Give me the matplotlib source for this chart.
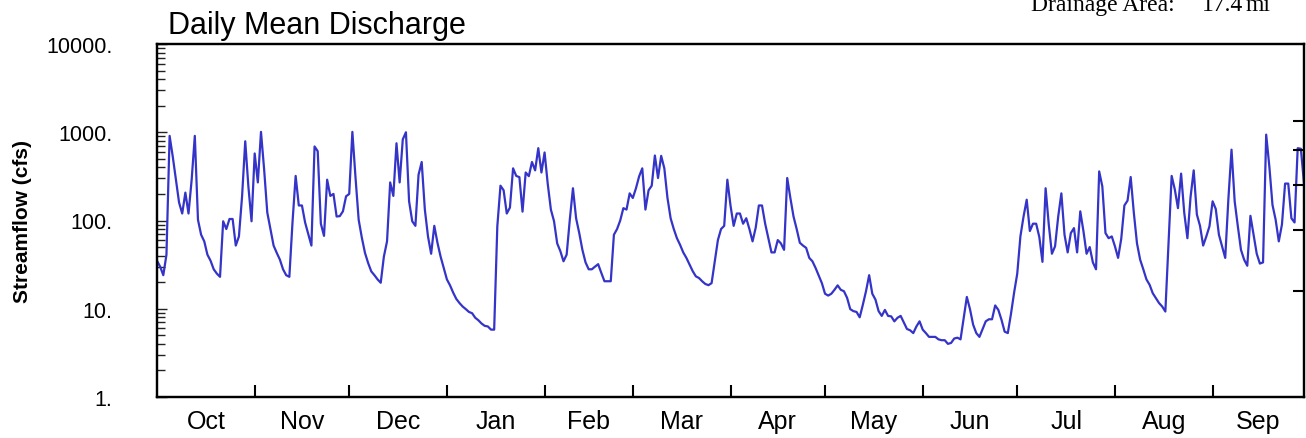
import numpy as np
import matplotlib
matplotlib.use('Agg')
import matplotlib.pyplot as plt
from matplotlib.ticker import FixedLocator, NullLocator, NullFormatter, LogLocator, FuncFormatter

# daily mean discharge (cfs), one list per month of the water year
months = ['Oct', 'Nov', 'Dec', 'Jan', 'Feb', 'Mar', 'Apr', 'May', 'Jun', 'Jul', 'Aug', 'Sep']
oct_q = [35, 30, 24, 41, 910, 530, 290, 160, 120, 207, 120, 290, 910, 102, 69, 58, 41, 35, 28, 25,
         23, 98, 80, 104, 104, 52, 66, 188, 790, 243, 98]
nov_q = [575, 270, 1010, 378, 123, 80, 52, 43, 36, 28, 24, 23, 95, 320, 148, 148, 95, 70, 52, 690,
         610, 92, 67, 290, 190, 200, 111, 112, 127, 188]
dec_q = [200, 1010, 306, 102, 64, 43, 33, 26.5, 24, 21.5, 19.7, 39, 58, 270, 190, 750, 270, 830, 1000, 165,
         98, 87, 330, 460, 133, 66, 42, 87, 56, 39, 29]
jan_q = [21.5, 18.4, 15.2, 12.9, 11.6, 10.6, 9.9, 9.2, 8.9, 7.9, 7.4, 6.8, 6.4, 6.3, 5.8, 5.8, 86, 248, 220, 120,
         140, 390, 320, 310, 126, 350, 318, 460, 370, 660, 350]
feb_q = [590, 260, 133, 98, 55, 45, 34.5, 41, 102, 232, 106, 72, 46.5, 33.5, 28, 28, 30, 32, 25.5, 20.5,
         20.5, 20.5, 69, 80, 100, 138, 133, 203]
mar_q = [180, 232, 316, 390, 133, 220, 248, 545, 303, 540, 390, 180, 106, 80, 63, 53, 43.5, 37.7, 31.7, 26.7,
         23.3, 22.3, 20.5, 19.1, 18.5, 19.5, 34.5, 60, 80, 87, 290]
apr_q = [148, 87, 120, 120, 92, 106, 80, 58, 83, 148, 148, 92, 63, 43.5, 43.5, 60, 55, 46.5, 303, 180,
         111, 80, 56, 52, 49, 37.7, 34.5, 29, 23.7, 19.5]
may_q = [14.8, 14.1, 14.8, 16.4, 18.4, 16.4, 15.8, 13.3, 9.9, 9.4, 9.2, 8, 11.1, 15.8, 24, 14.8, 12.7, 9.4, 8.3, 9.7,
         8.3, 8.2, 7.2, 7.9, 8.3, 7, 5.9, 5.7, 5.3, 6.3, 7.2]
jun_q = [5.8, 5.3, 4.8, 4.8, 4.8, 4.5, 4.4, 4.4, 4.0, 4.1, 4.6, 4.7, 4.5, 7.9, 13.6, 9.9, 6.6, 5.3, 4.8, 5.9,
         7.2, 7.6, 7.6, 10.9, 9.7, 7.5, 5.5, 5.3, 8.7, 15.2]
jul_q = [25, 66, 111, 172, 76, 92, 92, 65, 34, 232, 90, 42, 51, 111, 203, 69, 43.5, 72, 82, 43.5,
         127, 76, 42, 50, 33.5, 28, 360, 243, 72, 63, 66]
aug_q = [51, 37.7, 62, 148, 168, 311, 122, 55, 36, 28, 21.5, 18.7, 15, 13.2, 11.6, 10.6, 9.3, 55, 320, 225,
         138, 340, 122, 63, 185, 370, 117, 87, 52, 66, 86]
sep_q = [165, 135, 69, 51, 37.7, 175, 635, 165, 86, 46.5, 36, 30.7, 113, 69, 42, 32.5, 33.5, 940, 410, 150,
         102, 58, 90, 262, 262, 106, 95, 660, 650, 265]

y_ticks = [1, 10, 100, 1000, 10000]
right_ticks = [1334, 637, 255, 79, 15.7]

month_q = [oct_q, nov_q, dec_q, jan_q, feb_q, mar_q, apr_q, may_q, jun_q, jul_q, aug_q, sep_q]
flow = np.concatenate(month_q)
days = np.arange(len(flow))
bounds = np.cumsum([0] + [len(m) for m in month_q])
last = len(flow) - 1
centers = (bounds[:-1] + np.minimum(bounds[1:], last)) / 2.0

plt.rcParams['font.family'] = ['Liberation Sans', 'DejaVu Sans']

W, H = 1306, 439
fig = plt.figure(figsize=(W / 100, H / 100), dpi=100)
ax = fig.add_axes([157 / W, 1 - 398 / H, 1147 / W, 353 / H])

ax.plot(days, flow, color='#3434c8', lw=1.6)

ax.set_yscale('log')
ax.set_ylim(1, 10000)
ax.set_xlim(0, last)

ax.yaxis.set_major_locator(FixedLocator(y_ticks))
ax.yaxis.set_major_formatter(FuncFormatter(lambda v, p: f"{v:.0f}."))
ax.yaxis.set_minor_locator(LogLocator(base=10, subs=np.arange(2, 10)))
ax.yaxis.set_minor_formatter(NullFormatter())
ax.tick_params(axis='y', which='both', direction='in', labelsize=15.5, pad=32, color='#222222')
ax.tick_params(axis='y', which='major', length=7, width=1)
ax.tick_params(axis='y', which='minor', length=6, width=1)

ax.xaxis.set_major_locator(FixedLocator(bounds[1:-1]))
ax.xaxis.set_major_formatter(NullFormatter())
ax.set_xticks(centers, months, minor=True)
ax.tick_params(axis='x', which='major', direction='in', length=9, width=1.5)
ax.tick_params(axis='x', which='minor', length=0, labelsize=18, pad=9)

ax.set_ylabel('Streamflow (cfs)', fontsize=15, fontweight='bold')
ax.yaxis.set_label_coords((32 - 157) / 1147, 0.5)

for s in ax.spines.values():
    s.set_linewidth(1.6)

ax2 = ax.twinx()
ax2.set_yscale('log')
ax2.set_ylim(1, 10000)
ax2.yaxis.set_major_locator(FixedLocator(right_ticks))
ax2.yaxis.set_minor_locator(NullLocator())
ax2.tick_params(axis='y', which='major', direction='in', length=8, width=1.5, labelright=False)
for s in ax2.spines.values():
    s.set_linewidth(1.6)

fig.text(168 / W, 1 - 34 / H, 'Daily Mean Discharge', fontsize=22, va='baseline', ha='left')

fig.text(1175 / W, 1 - 11 / H, 'Drainage Area:', fontsize=17, family='Liberation Serif',
         va='baseline', ha='right')
fig.text(1202 / W, 1 - 11 / H, '17.4', fontsize=17, family='Liberation Serif', va='baseline', ha='left')
fig.text(1246 / W, 1 - 11 / H, 'mi', fontsize=17, family='Liberation Serif', va='baseline', ha='left')

fig.savefig('out.png', dpi=100)
plt.close(fig)
